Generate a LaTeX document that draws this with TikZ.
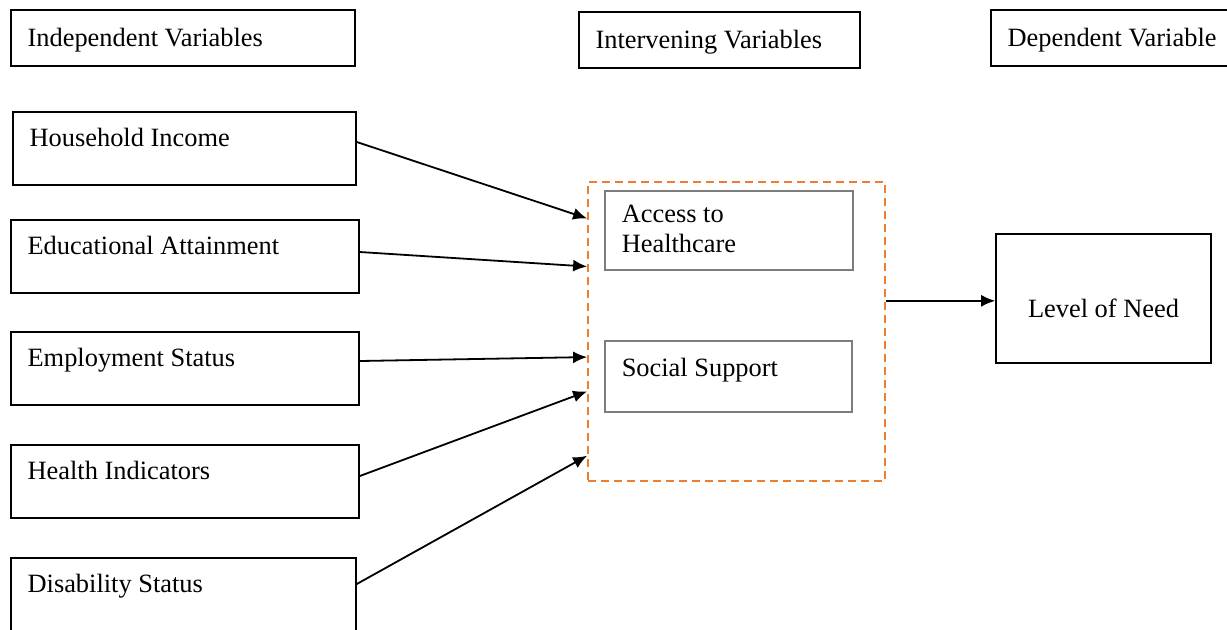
\documentclass[tikz,border=0pt]{standalone}
\usepackage{fontspec}
\setmainfont{Liberation Serif}
\usetikzlibrary{arrows.meta,calc}
\definecolor{dashorange}{RGB}{237,125,49}
\definecolor{boxgray}{RGB}{125,125,125}

\begin{document}
\begin{tikzpicture}[x=0.5pt,y=-0.5pt]
        \tikzset{box/.style = {draw, line width=0.8pt, inner sep=0pt}}
        \tikzset{subbox/.style = {draw=boxgray, line width=0.6pt, inner sep=0pt}}
        \tikzset{txt/.style = {anchor=north west, align=left, inner xsep=8.5pt, inner ysep=8.5pt, font=\fontsize{13.2}{15}\selectfont}}
        \tikzset{headtxt/.style = {anchor=west, inner xsep=8.5pt, inner ysep=0pt, yshift=-1pt, font=\fontsize{13.2}{15}\selectfont}}
        \tikzset{edge/.style = {->,> = {Latex[length=7pt,width=6pt]}, line width=0.9pt}}
        \useasboundingbox (0,0) rectangle (1227,629);
        % headers
        \node[box, minimum width=172pt, minimum height=28pt, label={[headtxt]west:Independent Variables}] (indep) at (183,38) {};
        \node[box, minimum width=140.5pt, minimum height=28pt, label={[headtxt]west:Intervening Variables}] (intervhead) at (719.5,40) {};
        \node[box, minimum width=120.5pt, minimum height=28pt, label={[headtxt]west:Dependent Variable}] (dep) at (1111.5,38) {};
        % independent variables
        \node[box, minimum width=171.5pt, minimum height=36.5pt, label={[txt]north west:Household Income}] (income) at (184.5,148.5) {};
        \node[box, minimum width=174pt, minimum height=36.5pt, label={[txt]north west:Educational Attainment}] (educ) at (185,256.5) {};
        \node[box, minimum width=174pt, minimum height=36.5pt, label={[txt]north west:Employment Status}] (employ) at (185,368.5) {};
        \node[box, minimum width=174pt, minimum height=36.5pt, label={[txt]north west:Health Indicators}] (health) at (185,481.5) {};
        \node[box, minimum width=172.5pt, minimum height=36.5pt, label={[txt]north west:Disability Status}] (disab) at (183.5,594.5) {};
        % intervening variables
        \node[draw=dashorange, dash pattern=on 4pt off 2.5pt, line width=0.9pt, minimum width=148.5pt, minimum height=149.5pt, inner sep=0pt] (interv) at (736.5,331.5) {};
        \node[subbox, minimum width=124pt, minimum height=39.5pt, label={[txt, inner ysep=7pt]north west:{Access to\\Healthcare}}] (access) at (729,230.5) {};
        \node[subbox, minimum width=123.5pt, minimum height=35.5pt, label={[txt]north west:Social Support}] (social) at (728.5,376.5) {};
        % dependent variable
        \node[box, minimum width=107.5pt, minimum height=64.5pt, label={[headtxt, anchor=center, yshift=-4pt]center:Level of Need}] (need) at (1103.5,298.5) {};
        % arrow ends on the dashed box
        \coordinate (in1) at ($(interv.north west)!0.124!(interv.south west)$);
        \coordinate (in2) at ($(interv.north west)!0.284!(interv.south west)$);
        \coordinate (in3) at ($(interv.north west)!0.585!(interv.south west)$);
        \coordinate (in4) at ($(interv.north west)!0.699!(interv.south west)$);
        \coordinate (in5) at ($(interv.north west)!0.913!(interv.south west)$);
        \coordinate (out) at ($(interv.north east)!0.398!(interv.south east)$);
        %edges
        \draw[edge] ([yshift=3.25pt]income.east) to (in1);
        \draw[edge] ([yshift=2.25pt]educ.east) to (in2);
        \draw[edge] ([yshift=3.75pt]employ.east) to (in3);
        \draw[edge] ([yshift=2.75pt]health.east) to (in4);
        \draw[edge] ([yshift=5.25pt]disab.east) to (in5);
        \draw[edge] (out) to (out -| need.west);
    \end{tikzpicture}
\end{document}
